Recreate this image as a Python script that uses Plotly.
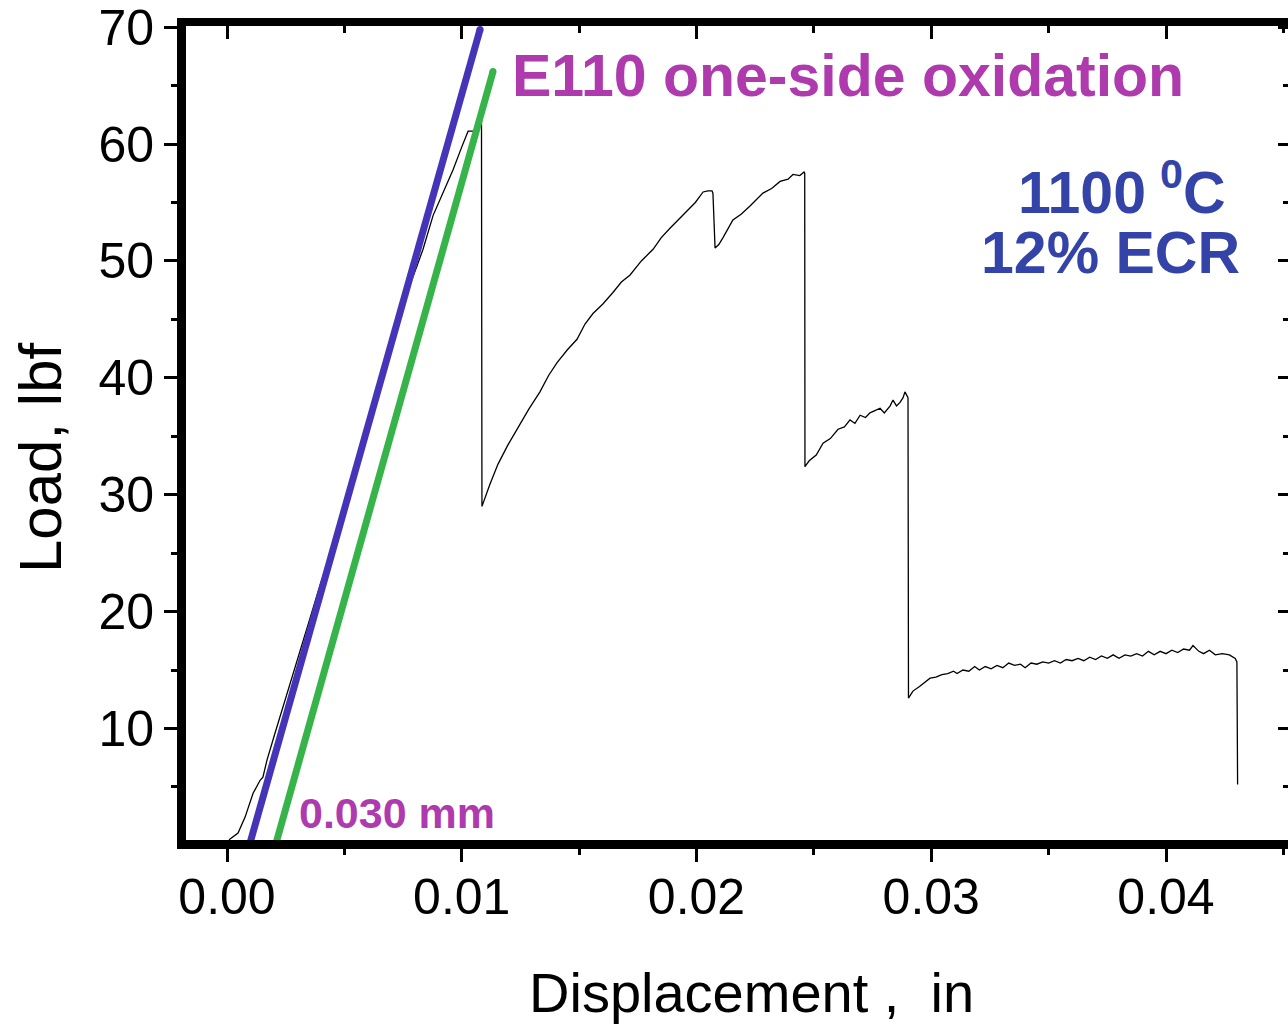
import plotly.graph_objects as go

# Load-displacement record (in, lbf)
disp_in = [
    0.00000, 0.00013, 0.00047, 0.00077, 0.00111, 0.00141, 0.00153, 0.00170, 0.00204,
    0.00250, 0.00290, 0.00330, 0.00362, 0.00400, 0.00440, 0.00480, 0.00520, 0.00560,
    0.00600, 0.00656, 0.00700, 0.00740, 0.00780, 0.00810, 0.00835, 0.00878, 0.00929,
    0.00963, 0.01001, 0.01027, 0.01052, 0.01062, 0.01084, 0.01086,
    0.01120, 0.01154, 0.01195, 0.01235, 0.01285, 0.01333, 0.01370, 0.01406, 0.01450,
    0.01491, 0.01525, 0.01559, 0.01600, 0.01644, 0.01680, 0.01717, 0.01765, 0.01815,
    0.01850, 0.01887, 0.01925, 0.01960, 0.01995, 0.02028, 0.02049, 0.02066, 0.02070,
    0.02079, 0.02095, 0.02113, 0.02155, 0.02190, 0.02228, 0.02283, 0.02320, 0.02356,
    0.02390, 0.02411, 0.02440, 0.02458, 0.02461, 0.02462,
    0.02480, 0.02510, 0.02539, 0.02570, 0.02603, 0.02630, 0.02654, 0.02675, 0.02697,
    0.02720, 0.02739, 0.02760, 0.02782, 0.02800, 0.02812, 0.02825, 0.02837, 0.02852,
    0.02867, 0.02880, 0.02888, 0.02901, 0.02903,
    0.02922, 0.02950, 0.02975, 0.02995, 0.03020, 0.03045, 0.03070, 0.03095, 0.03110,
    0.03135, 0.03160, 0.03185, 0.03205, 0.03230, 0.03255, 0.03280, 0.03305, 0.03330,
    0.03355, 0.03380, 0.03400, 0.03425, 0.03450, 0.03475, 0.03500, 0.03525, 0.03550,
    0.03575, 0.03600, 0.03625, 0.03650, 0.03675, 0.03700, 0.03725, 0.03750, 0.03775,
    0.03800, 0.03825, 0.03850, 0.03875, 0.03900, 0.03925, 0.03950, 0.03975, 0.04000,
    0.04025, 0.04050, 0.04075, 0.04100, 0.04115, 0.04140, 0.04160, 0.04185, 0.04210,
    0.04240, 0.04270, 0.04295, 0.04302, 0.04305,
]
load_lbf = [
    0.2, 0.55, 1.06, 2.42, 4.46, 5.57, 5.83, 7.27, 9.57,
    12.6, 15.4, 17.9, 20.0, 22.5, 24.8, 27.4, 30.0, 32.8,
    35.6, 39.6, 42.6, 45.2, 48.0, 49.6, 51.0, 53.9, 56.3,
    57.8, 59.8, 61.1, 61.1, 61.8, 62.4, 29.0,
    30.9, 32.6, 34.2, 35.6, 37.3, 38.8, 40.2, 41.3, 42.4,
    43.3, 44.6, 45.5, 46.3, 47.3, 48.2, 48.8, 50.0, 51.0,
    52.0, 52.8, 53.6, 54.3, 55.0, 55.9, 56.0, 56.0, 55.8,
    51.1, 51.4, 52.0, 53.5, 54.0, 54.7, 55.8, 56.2, 56.8,
    57.0, 57.4, 57.3, 57.6, 57.5, 32.4,
    32.9, 33.4, 34.4, 34.8, 35.6, 35.8, 36.4, 36.1, 36.8,
    36.6, 37.0, 37.2, 37.4, 37.0, 37.3, 37.6, 38.1, 37.6,
    37.9, 38.3, 38.8, 38.3, 12.6,
    13.2, 13.6, 14.0, 14.3, 14.4, 14.6, 14.7, 14.9, 14.7,
    15.0, 14.9, 15.3, 15.0, 15.3, 15.1, 15.4, 15.2, 15.6,
    15.4, 15.5, 15.2, 15.6, 15.5, 15.7, 15.6, 15.8, 15.6,
    15.9, 15.8, 16.0, 15.8, 16.1, 15.9, 16.2, 16.0, 16.3,
    16.0, 16.3, 16.2, 16.4, 16.2, 16.6, 16.3, 16.6, 16.4,
    16.7, 16.5, 16.8, 16.7, 17.1, 16.6, 16.4, 16.7, 16.3,
    16.4, 16.3, 16.0, 15.7, 5.2,
]

# Elastic-slope line and the same slope offset by 0.030 mm
slope_x = [0.00098, 0.01078]
slope_y = [0.2, 69.8]
offset_x = [0.00209, 0.01133]
offset_y = [0.2, 66.2]

x_ticks = [0.00, 0.01, 0.02, 0.03, 0.04]
y_ticks = [10, 20, 30, 40, 50, 60, 70]

X_RANGE = [-0.001747, 0.045197]
Y_RANGE = [0.46, 70.1]

FONT = "Liberation Sans, Arial, sans-serif"
PURPLE = "#AE3AAE"
TEXT_BLUE = "#3443A8"
LINE_BLUE = "#4634B8"
GREEN = "#36B449"

fig = go.Figure()

fig.add_trace(go.Scatter(
    x=disp_in, y=load_lbf, mode="lines",
    line=dict(color="black", width=1.3), showlegend=False, cliponaxis=True,
))
fig.add_trace(go.Scatter(
    x=slope_x, y=slope_y, mode="lines+markers",
    line=dict(color=LINE_BLUE, width=7),
    marker=dict(color=LINE_BLUE, size=7), showlegend=False, cliponaxis=False,
))
fig.add_trace(go.Scatter(
    x=offset_x, y=offset_y, mode="lines+markers",
    line=dict(color=GREEN, width=7),
    marker=dict(color=GREEN, size=7), showlegend=False, cliponaxis=False,
))
# empty trace so the mirrored top/right frame axes get drawn
fig.add_trace(go.Scatter(
    x=[None], y=[None], xaxis="x2", yaxis="y2", mode="lines",
    showlegend=False, hoverinfo="skip",
))

tick_font = dict(family=FONT, size=50, color="black")

fig.update_layout(
    width=1288, height=1024,
    margin=dict(l=186, r=0, t=23, b=184),
    paper_bgcolor="white", plot_bgcolor="white",
    showlegend=False,
    xaxis=dict(
        range=X_RANGE, tickvals=x_ticks, tickformat=".2f",
        ticks="outside", ticklen=13, tickwidth=3, tickcolor="black",
        minor=dict(dtick=0.005, tick0=0, ticks="outside", ticklen=6, tickwidth=3, tickcolor="black"),
        showline=True, linewidth=9, linecolor="black",
        showgrid=False, zeroline=False, tickfont=tick_font,
        ticklabelstandoff=-8, ticklabeloverflow="allow",
    ),
    xaxis2=dict(
        range=X_RANGE, overlaying="x", side="top", anchor="y2",
        tickvals=x_ticks, showticklabels=False,
        ticks="inside", ticklen=13, tickwidth=3, tickcolor="black",
        minor=dict(dtick=0.005, tick0=0, ticks="inside", ticklen=7, tickwidth=3, tickcolor="black"),
        showline=True, linewidth=8, linecolor="black",
        showgrid=False, zeroline=False,
    ),
    yaxis=dict(
        range=Y_RANGE, tickvals=y_ticks,
        ticks="outside", ticklen=13, tickwidth=3, tickcolor="black",
        minor=dict(dtick=5, tick0=0, ticks="outside", ticklen=6, tickwidth=3, tickcolor="black"),
        showline=True, linewidth=9, linecolor="black",
        showgrid=False, zeroline=False, tickfont=tick_font,
        ticklabeloverflow="allow",
    ),
    yaxis2=dict(
        range=Y_RANGE, overlaying="y", side="right", anchor="x2",
        tickvals=y_ticks, showticklabels=False,
        ticks="inside", ticklen=10, tickwidth=3, tickcolor="black",
        minor=dict(dtick=5, tick0=0, ticks="inside", ticklen=5, tickwidth=3, tickcolor="black"),
        showline=False, showgrid=False, zeroline=False,
    ),
)

annotations = [
    dict(text="<b>E110 one-side oxidation</b>", x=0.01206, y=65.8, xref="x", yref="y",
         xanchor="left", yanchor="middle", showarrow=False,
         font=dict(family=FONT, size=59, color=PURPLE)),
    dict(text="<b>1100</b>", x=0.03923, y=52.8, xref="x", yref="y",
         xanchor="right", yanchor="bottom", showarrow=False,
         font=dict(family=FONT, size=59, color=TEXT_BLUE)),
    dict(text="<b><sup>0</sup>C</b>", x=0.03966, y=52.8, xref="x", yref="y",
         xanchor="left", yanchor="bottom", showarrow=False,
         font=dict(family=FONT, size=59, color=TEXT_BLUE)),
    dict(text="<b>12% ECR</b>", x=0.04324, y=50.7, xref="x", yref="y",
         xanchor="right", yanchor="middle", showarrow=False,
         font=dict(family=FONT, size=59, color=TEXT_BLUE)),
    dict(text="<b>0.030 mm</b>", x=0.00298, y=2.76, xref="x", yref="y",
         xanchor="left", yanchor="middle", showarrow=False,
         font=dict(family=FONT, size=43, color=PURPLE)),
    dict(text="Load, lbf", x=-0.1325, y=0.4705, xref="paper", yref="paper",
         xanchor="center", yanchor="middle", textangle=-90, showarrow=False,
         font=dict(family=FONT, size=60, color="black")),
    dict(text="Displacement ,\u00a0\u00a0in", x=0.5136, y=-0.187, xref="paper", yref="paper",
         xanchor="center", yanchor="middle", showarrow=False,
         font=dict(family=FONT, size=56, color="black")),
]
fig.update_layout(annotations=annotations)

fig.write_html("out.html")
